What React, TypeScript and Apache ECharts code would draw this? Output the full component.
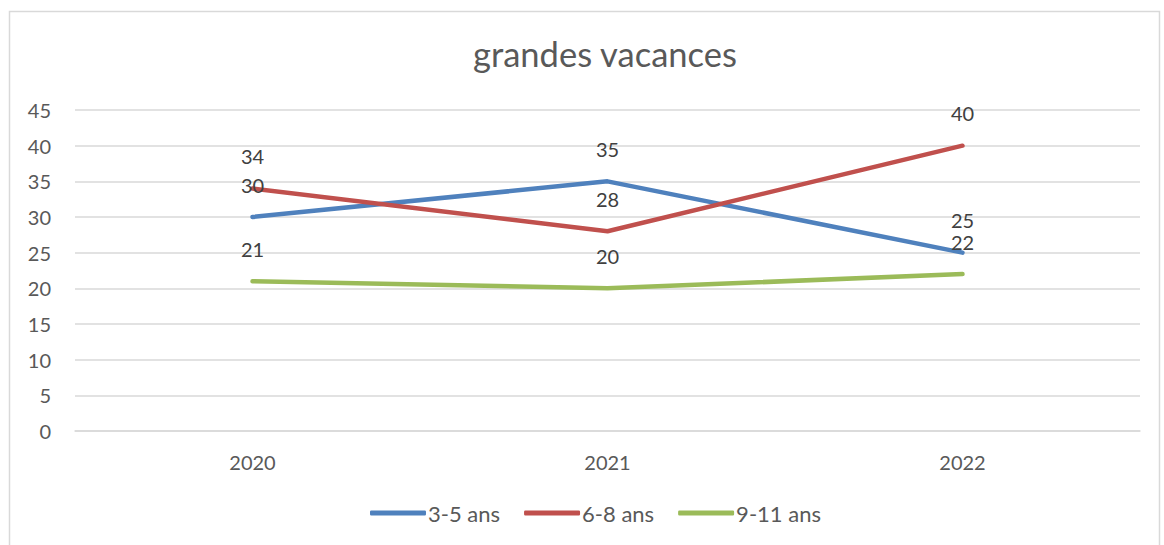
import React, { useEffect, useRef } from "react";
import * as echarts from "echarts";

const categories = ["2020", "2021", "2022"];
const seriesNames = ["3-5 ans", "6-8 ans", "9-11 ans"];
const values35 = [30, 35, 25];
const values68 = [34, 28, 40];
const values911 = [21, 20, 22];
const colors = ["#4f81bd", "#c0504d", "#9bbb59"];

export default function App() {
  const ref = useRef<HTMLDivElement>(null);
  useEffect(() => {
    document.body.style.margin = "0";
    const chart = echarts.init(ref.current!, null, { renderer: "svg" });
    const font = "Lato, 'Open Sans', sans-serif";
    const data = [values35, values68, values911];
    chart.setOption({
      animation: false,
      backgroundColor: "#ffffff",
      textStyle: { fontFamily: font },
      graphic: [
        {
          type: "rect",
          shape: { x: 9.5, y: 11.5, width: 1150, height: 545 },
          style: { fill: "none", stroke: "#d9d9d9", lineWidth: 1.5 },
          silent: true,
        },
      ],
      title: {
        text: "grandes vacances",
        left: 468,
        top: 31,
        textStyle: { fontFamily: font, fontSize: 34.5, fontWeight: "normal", color: "#595959" },
      },
      legend: {
        bottom: 16,
        left: 365,
        itemWidth: 56,
        itemHeight: 5,
        itemGap: 24,
        icon: "roundRect",
        textStyle: { fontFamily: font, fontSize: 22, color: "#595959", padding: [0, 0, 0, -3] },
        data: seriesNames,
      },
      grid: { left: 75, right: 24, top: 110, bottom: 114, containLabel: false },
      xAxis: {
        type: "category",
        data: categories,
        boundaryGap: true,
        axisLine: { lineStyle: { color: "#d9d9d9", width: 1.5 } },
        axisTick: { show: false },
        axisLabel: { fontFamily: font, fontSize: 20, color: "#595959", margin: 21 },
      },
      yAxis: {
        type: "value",
        min: 0,
        max: 45,
        interval: 5,
        axisLine: { show: false },
        axisTick: { show: false },
        splitLine: { lineStyle: { color: "#d9d9d9", width: 1.5 } },
        axisLabel: { fontFamily: font, fontSize: 20, color: "#595959", margin: 24 },
      },
      series: seriesNames.map((name, i) => ({
        name,
        type: "line",
        data: data[i],
        symbol: "circle",
        symbolSize: 1,
        showSymbol: true,
        itemStyle: { color: colors[i], opacity: 1 },
        lineStyle: { color: colors[i], width: 4.5, cap: "round", join: "round" },
        label: {
          show: true,
          position: "top",
          distance: 22,
          fontFamily: font,
          fontSize: 20,
          color: "#404040",
        },
      })),
    });
    return () => chart.dispose();
  }, []);
  return <div ref={ref} style={{ width: 1164, height: 545 }} />;
}
